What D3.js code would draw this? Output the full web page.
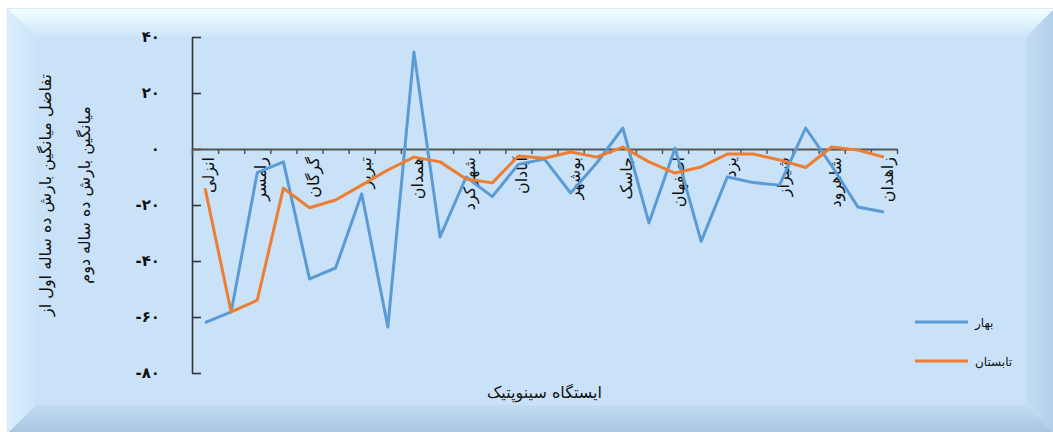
<!DOCTYPE html>
<html>
<head>
<meta charset="utf-8">
<script src="https://cdn.jsdelivr.net/npm/d3@7"></script>
<style>
  body { margin: 0; background: #fff; }
  svg text { font-family: "DejaVu Sans", sans-serif; fill: #111; }
</style>
</head>
<body>
<svg id="chart"></svg>
<script>
// stations (only every second one gets a visible label, like excel did)
const stations = ["انزلی", "رشت", "رامسر", "بابلسر", "گرگان", "ارومیه", "تبریز", "زنجان", "همدان",
    "کرمانشاه", "شهرکرد", "اهواز", "آبادان", "بندر دیر", "بوشهر", "بندرعباس", "جاسک", "چابهار",
    "اصفهان", "کاشان", "یزد", "کرمان", "شیراز", "سمنان", "شاهرود", "مشهد", "زاهدان"];
const spring = [-62, -58.2, -8.4, -4.6, -46.4, -42.5, -16, -63.6, 34.6, -31.4, -10, -17, -5.5, -3.6,
    -15.7, -5, 7.5, -26.4, 0.3, -33, -10, -12, -12.9, 7.5, -6, -20.7, -22.5];
const summer = [-14, -58.2, -54, -14, -21, -18.2, -12.9, -7.5, -2.9, -4.6, -10.7, -12.1, -2.5, -3.3,
    -1.1, -2.9, 0.7, -4.6, -8.6, -6.4, -1.8, -1.8, -3.9, -6.6, 0.7, -0.4, -2.9];
const seriesNames = ["بهار", "تابستان"];
const yTicks = [-80, -60, -40, -20, 0, 20, 40];
const yTickLabels = ["-۸۰", "-۶۰", "-۴۰", "-۲۰", "۰", "۲۰", "۴۰"];
const yTitle = ["تفاضل میانگین بارش ده ساله اول از", "میانگین بارش ده ساله دوم"];
const xTitle = "ایستگاه سینوپتیک";

const width = 1053, height = 432;
const colors = ["#5b9bd5", "#ed7d31"];

const svg = d3.select("#chart").attr("width", width).attr("height", height);

/* bevelled panel behind everything */
const p = { x0: 8, y0: 9, x1: 1054, y1: 433, b: 28 };
const defs = svg.append("defs");
makeGrad = (id, x2, y2, c1, c2) => {
    const g = defs.append("linearGradient").attr("id", id)
        .attr("x1", 0).attr("y1", 0).attr("x2", x2).attr("y2", y2);
    g.append("stop").attr("offset", "0%").attr("stop-color", c1);
    g.append("stop").attr("offset", "100%").attr("stop-color", c2);
}
makeGrad("gTop", 0, 1, "#f2ffff", "#cce5f9");
makeGrad("gLeft", 1, 0, "#d9effd", "#cbe4f8");
makeGrad("gRight", 1, 0, "#c3dcf3", "#b2cfea");
makeGrad("gBottom", 0, 1, "#c2dcf2", "#a8c4df");

svg.append("rect").attr("x", p.x0 - 1).attr("y", p.y0 - 1)
    .attr("width", p.x1 - p.x0 + 2).attr("height", p.y1 - p.y0 + 2).attr("fill", "#dde9f5");
const bevel = [
    ["gTop", [[p.x0, p.y0], [p.x1, p.y0], [p.x1 - p.b, p.y0 + p.b], [p.x0 + p.b, p.y0 + p.b]]],
    ["gLeft", [[p.x0, p.y0], [p.x0 + p.b, p.y0 + p.b], [p.x0 + p.b, p.y1 - p.b], [p.x0, p.y1]]],
    ["gRight", [[p.x1, p.y0], [p.x1, p.y1], [p.x1 - p.b, p.y1 - p.b], [p.x1 - p.b, p.y0 + p.b]]],
    ["gBottom", [[p.x0, p.y1], [p.x0 + p.b, p.y1 - p.b], [p.x1 - p.b, p.y1 - p.b], [p.x1, p.y1]]]
];
bevel.forEach(([g, pts]) => svg.append("polygon")
    .attr("points", pts.map(d => d.join(",")).join(" ")).attr("fill", `url(#${g})`));
svg.append("rect").attr("x", p.x0 + p.b).attr("y", p.y0 + p.b)
    .attr("width", p.x1 - p.x0 - 2 * p.b).attr("height", p.y1 - p.y0 - 2 * p.b).attr("fill", "#c9e2f8");

/* scales */
const plot = { left: 192, right: 897, top: 37, bottom: 373 };
const x = d3.scaleBand().domain(stations).range([plot.left, plot.right]);
const xEdge = d3.scaleLinear().domain([0, stations.length]).range([plot.left, plot.right]);
const y = d3.scaleLinear().domain([-80, 40]).range([plot.bottom, plot.top]);

/* y axis: ticks point inwards, labels well to the left */
const yAxis = svg.append("g")
    .attr("transform", `translate(${plot.left},0)`)
    .call(d3.axisLeft(y).tickValues(yTicks).tickSizeInner(-9).tickSizeOuter(0).tickPadding(32)
        .tickFormat((d, i) => yTickLabels[i]));
yAxis.select(".domain").attr("stroke", "#333").attr("stroke-width", 1.6);
yAxis.selectAll(".tick line").attr("stroke", "#333").attr("stroke-width", 1.6);
yAxis.selectAll(".tick text").attr("font-size", 15).attr("font-weight", "bold")
    .style("font-family", "DejaVu Sans").attr("fill", "#111");

/* x axis sits on zero */
const xAxis = svg.append("g")
    .attr("transform", `translate(0,${y(0)})`)
    .call(d3.axisBottom(xEdge).tickValues(d3.range(stations.length + 1)).tickFormat("")
        .tickSizeInner(5).tickSizeOuter(0));
xAxis.select(".domain").attr("stroke", "#555").attr("stroke-width", 1.8);
xAxis.selectAll(".tick line").attr("stroke", "#555").attr("stroke-width", 1.5);

// category labels, rotated, every second station
svg.append("g").selectAll("text")
    .data(stations.filter((d, i) => i % 2 == 0))
    .join("text")
    .attr("transform", d => `translate(${x(d) + x.bandwidth() / 2 + 9},${y(0) + 8}) rotate(-90)`)
    .attr("text-anchor", "end")
    .attr("font-size", 16)
    .text(d => d);

/* lines */
const line = d3.line()
    .x((d, i) => x(stations[i]) + x.bandwidth() / 2)
    .y(d => y(d));
[spring, summer].forEach((s, k) => {
    svg.append("path").datum(s)
        .attr("fill", "none")
        .attr("stroke", colors[k])
        .attr("stroke-width", 3)
        .attr("stroke-linejoin", "round")
        .attr("d", line);
});

/* titles */
svg.append("text")
    .attr("x", (plot.left + plot.right) / 2).attr("y", 398)
    .attr("text-anchor", "middle").attr("font-size", 16)
    .text(xTitle);
yTitle.forEach((t, i) => {
    svg.append("text")
        .attr("transform", `translate(${51 + i * 39},195) rotate(-90)`)
        .attr("text-anchor", "middle").attr("font-size", 16)
        .text(t);
});

/* legend */
const legend = svg.append("g").selectAll("g").data(seriesNames).join("g")
    .attr("transform", (d, i) => `translate(915,${322 + i * 39})`);
legend.append("line").attr("x1", 0).attr("x2", 53)
    .attr("stroke", (d, i) => colors[i]).attr("stroke-width", 3);
legend.append("text").attr("x", 60).attr("y", 5).attr("font-size", 12).text(d => d);
</script>
</body>
</html>
